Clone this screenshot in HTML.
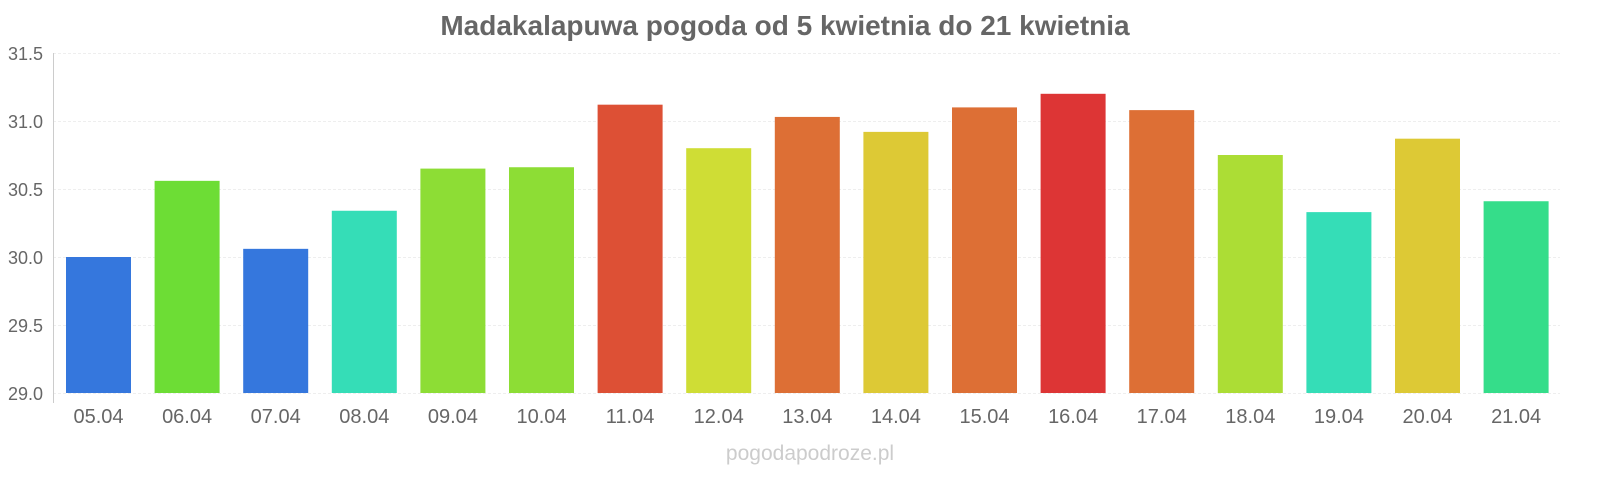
<!DOCTYPE html>
<html><head><meta charset="utf-8"><style>
body{margin:0;background:#fff;}
text{font-family:"Liberation Sans",sans-serif;}
</style></head><body>
<svg width="1600" height="480" xmlns="http://www.w3.org/2000/svg">
<text x="785" y="35" text-anchor="middle" font-size="28" font-weight="bold" fill="#666">Madakalapuwa pogoda od 5 kwietnia do 21 kwietnia</text>
<g stroke="#eee" stroke-width="1" stroke-dasharray="3,2">
<line x1="53" x2="1560" y1="53.5" y2="53.5"/><line x1="53" x2="1560" y1="121.5" y2="121.5"/><line x1="53" x2="1560" y1="189.5" y2="189.5"/><line x1="53" x2="1560" y1="257.5" y2="257.5"/><line x1="53" x2="1560" y1="325.5" y2="325.5"/><line x1="53" x2="1560" y1="393.5" y2="393.5"/>
</g>
<line x1="53.5" x2="53.5" y1="53" y2="403" stroke="#ccc"/>
<g font-size="18" fill="#666" text-anchor="end">
<text x="43" y="60">31.5</text><text x="43" y="128">31.0</text><text x="43" y="196">30.5</text><text x="43" y="264">30.0</text><text x="43" y="332">29.5</text><text x="43" y="400">29.0</text>
</g>
<g id="bars"></g>
<g id="labels" font-size="20" fill="#666" text-anchor="middle"></g>
<text x="810" y="460" text-anchor="middle" font-size="21" fill="#ccc">pogodapodroze.pl</text>
<script>
var v=[30.0,30.56,30.06,30.34,30.65,30.66,31.12,30.80,31.03,30.92,31.10,31.20,31.08,30.75,30.33,30.87,30.41];
var c=["#3577dd","#6ddd35","#3577dd","#35ddb7","#8ddd35","#8ddd35","#dd5035","#cfdd35","#dd6f35","#ddc935","#dd6f35","#dd3535","#dd6f35","#acdd35","#35ddb7","#ddc935","#35dd8a"];
var b=document.getElementById("bars"),l=document.getElementById("labels"),ns="http://www.w3.org/2000/svg";
for(var i=0;i<17;i++){var x=66+i*88.6,y=393-(v[i]-29)*136;
var r=document.createElementNS(ns,"rect");r.setAttribute("x",x);r.setAttribute("y",y);r.setAttribute("width",65);r.setAttribute("height",393-y);r.setAttribute("fill",c[i]);b.appendChild(r);
var t=document.createElementNS(ns,"text");t.setAttribute("x",x+32.5);t.setAttribute("y",423);var d=5+i;t.textContent=(d<10?"0":"")+d+".04";l.appendChild(t);}
</script>
</svg>
</body></html>
